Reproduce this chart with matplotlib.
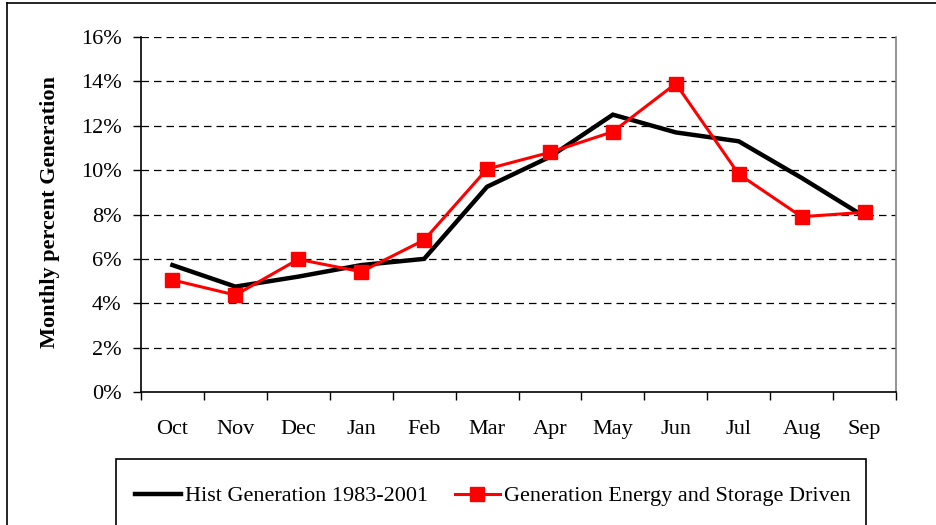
import matplotlib
matplotlib.use("Agg")
import matplotlib.pyplot as plt
from matplotlib.lines import Line2D
from matplotlib.patches import Rectangle
from matplotlib.ticker import FuncFormatter, FixedLocator

months = ["Oct", "Nov", "Dec", "Jan", "Feb", "Mar", "Apr", "May", "Jun", "Jul", "Aug", "Sep"]
hist = [5.72, 4.75, 5.2, 5.72, 6.0, 9.25, 10.6, 12.5, 11.7, 11.3, 9.65, 7.9]
driven = [5.05, 4.37, 5.98, 5.42, 6.85, 10.05, 10.8, 11.73, 13.9, 9.82, 7.9, 8.1]
hist_label = "Hist Generation 1983-2001"
driven_label = "Generation Energy and Storage Driven"
y_label = "Monthly percent Generation"

plt.rcParams['font.family'] = ['Liberation Serif', 'DejaVu Serif']
FS = 16

W, H = 936, 525
fig = plt.figure(figsize=(W / 100, H / 100), dpi=100)
ax = fig.add_axes([141 / W, 1 - 392 / H, (896 - 141) / W, (392 - 37) / H])

x = list(range(len(months)))
ax.plot(x, hist, color="black", lw=3.2, solid_joinstyle="miter", label=hist_label, zorder=3)
ax.plot(x, driven, color="#ff0000", lw=2.2, marker="s", markersize=10,
        markeredgecolor="#ff0000", markerfacecolor="#ff0000", label=driven_label, zorder=4)

ax.set_xlim(-0.5, 11.5)
ax.set_ylim(0, 16)
ax.set_yticks(range(0, 17, 2))
ax.yaxis.set_major_formatter(FuncFormatter(lambda v, p: f"{int(v)}%"))
ax.set_xticks(x)
ax.set_xticklabels(months)
ax.xaxis.set_minor_locator(FixedLocator([i - 0.5 for i in range(13)]))
ax.tick_params(axis="x", which="major", length=0, pad=20.5, labelsize=FS)
ax.tick_params(axis="x", which="minor", length=6, width=1, direction="out")
ax.tick_params(axis="y", which="major", length=6, width=1, direction="out", pad=8, labelsize=FS)

for v in range(2, 17, 2):
    ax.axhline(v, color="black", lw=0.9, ls=(0, (6, 4)), zorder=1)

ax.spines["top"].set_visible(False)
ax.spines["right"].set_color("#808080")
ax.spines["right"].set_linewidth(1.2)
ax.spines["left"].set_linewidth(1.2)
ax.spines["bottom"].set_linewidth(1.2)

fig.text(50 / W, 1 - 212 / H, y_label, rotation=90, ha="center", va="center",
         fontsize=FS, fontweight="bold")

# legend box
fig.add_artist(Rectangle((116 / W, -0.05), (866 - 116) / W, (1 - 459 / H) + 0.05,
                         transform=fig.transFigure, fill=False, edgecolor="black", lw=1.2))
fig.legend(loc="center", bbox_to_anchor=(493 / W, 1 - 496 / H), ncol=2, frameon=False,
           fontsize=FS, handlelength=2.05, handletextpad=0.18, columnspacing=1.2,
           markerscale=1.0, borderpad=0, borderaxespad=0)

# outer figure border
fig.add_artist(Line2D([7 / W, 7 / W], [0, 1 - 3 / H], transform=fig.transFigure,
                      color="black", lw=1.2))
fig.add_artist(Line2D([7 / W, 1], [1 - 3 / H, 1 - 3 / H], transform=fig.transFigure,
                      color="black", lw=1.2))

fig.savefig("out.png", dpi=100)
